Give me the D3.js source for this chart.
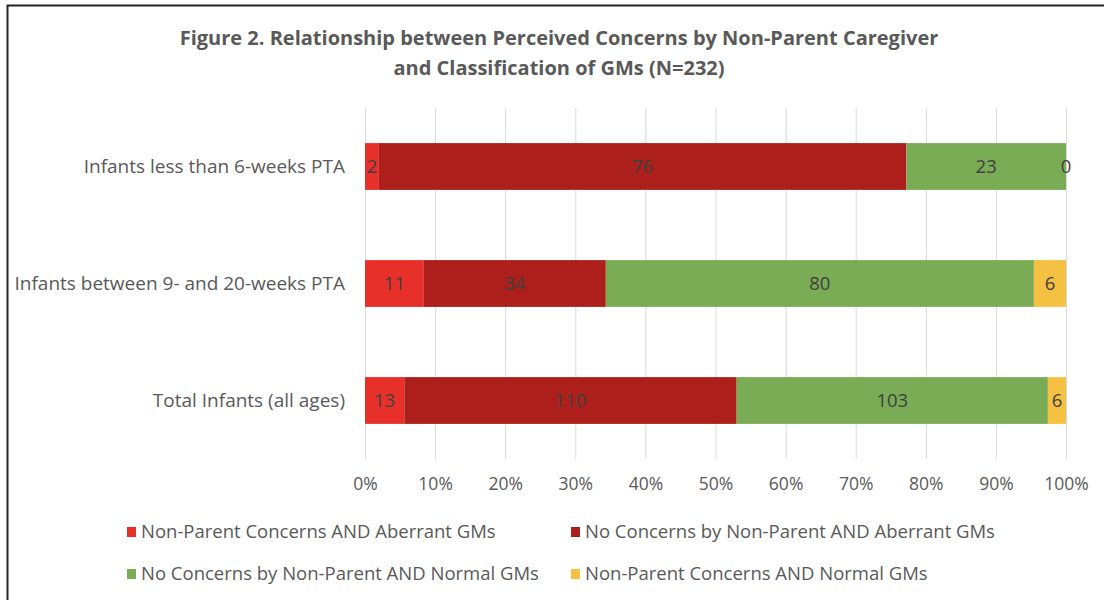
<!DOCTYPE html>
<html>
<head>
<meta charset="utf-8">
<script src="https://cdn.jsdelivr.net/npm/d3@7"></script>
<style>
  html, body { margin: 0; padding: 0; background: #fff; }
  svg { display: block; font-family: "Open Sans", Lato, sans-serif; }
</style>
</head>
<body>
<svg id="chart" width="1104" height="600"></svg>
<script>
// Infant groups (top to bottom)
const categories = [
  "Infants less than 6-weeks PTA",
  "Infants between 9- and 20-weeks PTA",
  "Total Infants (all ages)"
];

// Series names, in stacking order
const seriesNames = [
  "Non-Parent Concerns AND Aberrant GMs",
  "No Concerns by Non-Parent AND Aberrant GMs",
  "No Concerns by Non-Parent AND Normal GMs",
  "Non-Parent Concerns AND Normal GMs"
];
const seriesColors = ["#e8302a", "#ad1f1a", "#7aab55", "#f4c142"];

// Counts per series, one value per category
const concernsAberrant   = [2, 11, 13];
const noConcernsAberrant = [76, 34, 110];
const noConcernsNormal   = [23, 80, 103];
const concernsNormal     = [0, 6, 6];

const tickLabels = ["0%", "10%", "20%", "30%", "40%", "50%", "60%", "70%", "80%", "90%", "100%"];

const titleLines = [
  "Figure 2. Relationship between Perceived Concerns by Non-Parent Caregiver",
  "and Classification of GMs (N=232)"
];

// ---- build table ----
const seriesValues = [concernsAberrant, noConcernsAberrant, noConcernsNormal, concernsNormal];
const rows = categories.map((c, i) => {
  const row = { category: c };
  seriesNames.forEach((s, j) => row[s] = seriesValues[j][i]);
  return row;
});
const stack = d3.stack().keys(seriesNames).offset(d3.stackOffsetExpand);
const layers = stack(rows);

const svg = d3.select("#chart");
const textColor = "#595959";
const font = "'Open Sans', sans-serif";

// frame lines (top and left)
svg.append("path")
  .attr("d", "M7.5,600 L7.5,5.5 L1104,5.5")
  .attr("fill", "none").attr("stroke", "#222").attr("stroke-width", 2);

// title
svg.append("g").selectAll("text").data(titleLines).join("text")
  .attr("x", 559).attr("y", (d, i) => 45 + i * 30)
  .attr("text-anchor", "middle")
  .attr("fill", textColor)
  .attr("font-weight", "bold")
  .attr("font-size", 20)
  .attr("font-family", font)
  .text(d => d);

const x = d3.scaleLinear().domain([0, 1]).range([365, 1066]);
const y = d3.scaleBand().domain(categories).range([108, 459]).paddingInner(0.6).paddingOuter(0.3);

// gridlines
svg.append("g").selectAll("line").data(d3.range(0, 1.0001, 0.1)).join("line")
  .attr("x1", d => x(d) + 0.5).attr("x2", d => x(d) + 0.5)
  .attr("y1", 108).attr("y2", 459)
  .attr("stroke", "#d9d9d9").attr("stroke-width", 1);

// x axis labels
const xAxis = d3.axisBottom(x)
  .tickValues(d3.range(0, 1.0001, 0.1))
  .tickFormat((d, i) => tickLabels[i])
  .tickSize(0).tickPadding(19);
const gx = svg.append("g").attr("transform", "translate(0,459)").call(xAxis);
gx.select(".domain").remove();
gx.selectAll("text").attr("fill", textColor).attr("font-size", 17.5)
  .attr("font-family", font);

// y axis labels
const yAxis = d3.axisLeft(y).tickSize(0).tickPadding(20);
const gy = svg.append("g").attr("transform", "translate(365,0)").call(yAxis);
gy.select(".domain").remove();
gy.selectAll("text").attr("fill", textColor).attr("font-size", 19)
  .attr("font-family", font);

// bars
const gBars = svg.append("g");
layers.forEach((layer, j) => {
  const g = gBars.append("g").attr("fill", seriesColors[j]);
  g.selectAll("rect").data(layer).join("rect")
    .attr("x", d => x(d[0]))
    .attr("width", d => x(d[1]) - x(d[0]))
    .attr("y", d => y(d.data.category))
    .attr("height", y.bandwidth());
});

// value labels
layers.forEach((layer, j) => {
  svg.append("g").selectAll("text").data(layer).join("text")
    .attr("x", d => (x(d[0]) + x(d[1])) / 2)
    .attr("y", d => y(d.data.category) + y.bandwidth() / 2)
    .attr("dy", "0.35em")
    .attr("text-anchor", "middle")
    .attr("fill", "#404040")
    .attr("font-size", 18.5)
    .attr("font-family", font)
    .text(d => d.data[layer.key]);
});

// legend
const legendPos = [[127, 532], [571, 532], [127, 574], [571, 574]];
const legend = svg.append("g").selectAll("g").data(seriesNames).join("g")
  .attr("transform", (d, i) => `translate(${legendPos[i][0]},${legendPos[i][1]})`);
legend.append("rect").attr("x", 0).attr("y", -5).attr("width", 9).attr("height", 10)
  .attr("fill", (d, i) => seriesColors[i]);
legend.append("text").attr("x", 14).attr("dy", "0.35em")
  .attr("fill", textColor).attr("font-size", 18.5)
  .attr("font-family", font)
  .text(d => d);
</script>
</body>
</html>
